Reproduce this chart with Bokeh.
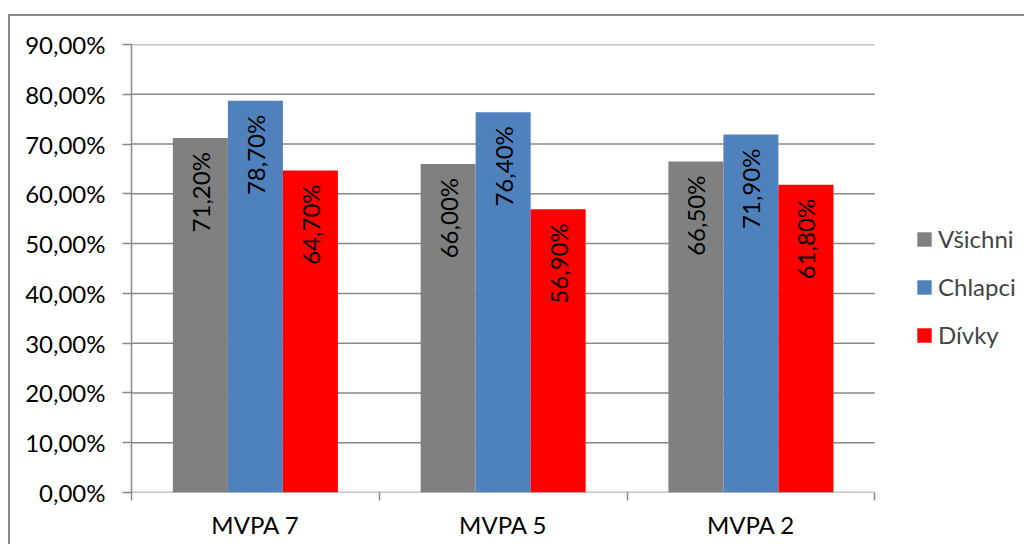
from math import pi

from bokeh.core.properties import value
from bokeh.embed import file_html
from bokeh.models import (ColumnDataSource, CustomJSTickFormatter, FixedTicker,
                          Legend, LegendItem, Range1d)
from bokeh.plotting import figure
from bokeh.resources import INLINE

# --- data -------------------------------------------------------------
categories = ["MVPA 7", "MVPA 5", "MVPA 2"]
series_names = ["Všichni", "Chlapci", "Dívky"]
vsichni = [71.2, 66.0, 66.5]
chlapci = [78.7, 76.4, 71.9]
divky = [64.7, 56.9, 61.8]
y_ticks = [0, 10, 20, 30, 40, 50, 60, 70, 80, 90]

# --- style ------------------------------------------------------------
colors = ["#808080", "#4F81BD", "#FF0000"]
grid_gray = "#898989"
FONT = "Lato"
FS = "24px"
bar_w = 0.222
offsets = [-bar_w, 0.0, bar_w]
n_cat = len(categories)
legend_room = 0.58  # extra x-range on the right that holds the legend

p = figure(
    width=1016, height=530,
    x_range=Range1d(0, n_cat + legend_room),
    y_range=Range1d(0, y_ticks[-1]),
    output_backend="svg", toolbar_location=None,
    min_border_left=121, min_border_right=8,
    min_border_top=28, min_border_bottom=54,
)
p.styles = {
    "margin-left": "8px", "margin-top": "14px",
    "border-left": f"2px solid {grid_gray}",
    "border-top": f"2px solid {grid_gray}",
}
p.outline_line_color = None
p.background_fill_color = "white"
p.border_fill_color = "white"

# horizontal gridlines only across the category area (y=0 doubles as the axis line)
p.segment(x0=[0] * len(y_ticks), x1=[n_cat] * len(y_ticks), y0=y_ticks, y1=y_ticks,
          line_color=grid_gray, line_width=1.5)

renderers = []
for name, vals, col, off in zip(series_names, [vsichni, chlapci, divky], colors, offsets):
    src = ColumnDataSource(dict(
        x=[i + 0.5 + off for i in range(n_cat)],
        top=vals,
        label=[f"{v:.2f}".replace(".", ",") + "%" for v in vals],
    ))
    r = p.vbar(x="x", top="top", width=bar_w, source=src,
               fill_color=col, line_color=None)
    p.text(x="x", y="top", text="label", source=src, angle=pi / 2,
           text_align="right", text_baseline="middle", y_offset=14,
           text_font=value(FONT), text_font_size=FS, text_color="black")
    renderers.append((name, r))

# --- axes -------------------------------------------------------------
yax = p.yaxis[0]
yax.ticker = FixedTicker(ticks=y_ticks)
yax.formatter = CustomJSTickFormatter(
    code="return tick.toFixed(2).replace('.', ',') + '%';")
yax.axis_line_color = grid_gray
yax.axis_line_width = 1.5
yax.major_tick_line_color = grid_gray
yax.major_tick_line_width = 1.5
yax.major_tick_out = 9
yax.major_tick_in = 0
yax.minor_tick_line_color = None
yax.major_label_standoff = 17
yax.major_label_text_font = FONT
yax.major_label_text_font_size = FS
yax.major_label_text_color = "black"

xax = p.xaxis[0]
xax.ticker = FixedTicker(ticks=[i + 0.5 for i in range(n_cat)],
                         minor_ticks=list(range(n_cat + 1)))
xax.formatter = CustomJSTickFormatter(
    args=dict(names=categories),
    code="return names[Math.floor(tick)] || '';")
xax.axis_line_color = None
xax.major_tick_line_color = None
xax.major_tick_out = 0
xax.major_tick_in = 0
xax.minor_tick_line_color = grid_gray
xax.minor_tick_line_width = 1.5
xax.minor_tick_out = 8
xax.minor_tick_in = 0
xax.major_label_standoff = 9
xax.major_label_text_font = FONT
xax.major_label_text_font_size = FS
xax.major_label_text_color = "black"

p.xgrid.visible = False
p.ygrid.visible = False

# --- legend -----------------------------------------------------------
legend = Legend(
    items=[LegendItem(label=n, renderers=[r]) for n, r in renderers],
    location=(784, 143),
    padding=0, margin=0, spacing=19,
    glyph_width=18, glyph_height=18, label_height=29,
    label_standoff=5,
    label_text_font=FONT, label_text_font_size=FS,
    border_line_color=None, background_fill_alpha=0,
)
p.add_layout(legend)

open("out.html", "w").write(file_html(p, INLINE))
